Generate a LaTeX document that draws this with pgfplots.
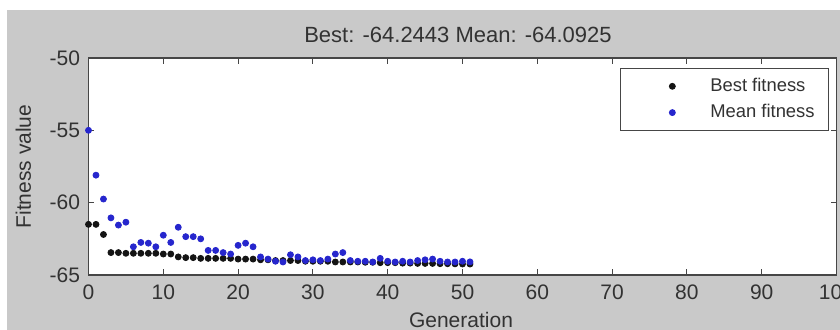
\documentclass[border=0pt]{standalone}
\usepackage{pgfplots}
\pgfplotsset{compat=1.18}
\usepackage{fontspec}
\setmainfont{Liberation Sans}
\definecolor{figgray}{RGB}{201,201,201}
\definecolor{mblue}{RGB}{38,38,205}
\definecolor{axgray}{RGB}{70,70,70}
\definecolor{txt}{RGB}{50,50,50}
\begin{document}
\begin{tikzpicture}
\clip (0,0) rectangle (420bp,165bp);
\fill[white] (0,0) rectangle (420bp,165bp);
\fill[figgray] (3.5bp,0) rectangle (420bp,160bp);
\begin{axis}[
  at={(44.25bp,27.5bp)}, anchor=south west,
  scale only axis, width=374bp, height=108.5bp,
  xmin=0, xmax=100, ymin=-65, ymax=-50,
  xtick={0,10,...,100}, ytick={-65,-60,-55,-50},
  tick align=inside, major tick length=3bp,
  axis line style={axgray, line width=0.6bp},
  tick style={axgray, line width=0.5bp},
  axis background/.style={fill=white},
  font=\fontsize{10.5bp}{12bp}\selectfont,
  /pgf/number format/assume math mode=true,
  ticklabel style={text=txt},
  xticklabel style={anchor=base, yshift=-12bp},
  yticklabel style={anchor=east, xshift=-0.75bp},
  title={Best: -64.2443 Mean: -64.0925},
  title style={at={(axis description cs:0.494,1.051)}, anchor=center, text=txt, font=\fontsize{11bp}{13bp}\selectfont},
  xlabel={Generation},
  xlabel style={at={(axis description cs:0.498,-0.244)}, anchor=base, text=txt},
  ylabel={Fitness value},
  ylabel style={at={(axis description cs:-0.087,0.5)}, anchor=center, text=txt},
  legend style={at={(0.990,0.955)}, anchor=north east, draw=axgray, fill=white,
    font=\fontsize{9.2bp}{11bp}\selectfont, text=txt, inner xsep=5bp, inner ysep=3bp, row sep=1bp},
  legend cell align=left,
  legend image code/.code={\draw[draw=none,fill=none] (0bp,0bp) -- (38bp,0bp); \draw[#1, only marks] plot coordinates {(21bp,0bp)};},
]
\addplot[only marks, mark=*, mark size=1.5bp, color=black!92] coordinates {
(0,-61.5) (1,-61.5) (2,-62.2) (3,-63.45) (4,-63.45) (5,-63.5) (6,-63.5) (7,-63.5) (8,-63.5) (9,-63.5) (10,-63.55) (11,-63.55)
(12,-63.75) (13,-63.8) (14,-63.8) (15,-63.85) (16,-63.85) (17,-63.85) (18,-63.85) (19,-63.85) (20,-63.9) (21,-63.9) (22,-63.9)
(23,-63.95) (24,-63.95) (25,-64.0) (26,-64.0) (27,-64.0) (28,-64.0) (29,-64.05) (30,-64.05) (31,-64.05) (32,-64.05) (33,-64.1)
(34,-64.1) (35,-64.1) (36,-64.1) (37,-64.12) (38,-64.12) (39,-64.15) (40,-64.15) (41,-64.15) (42,-64.18) (43,-64.18) (44,-64.2)
(45,-64.2) (46,-64.2) (47,-64.22) (48,-64.22) (49,-64.23) (50,-64.24) (51,-64.2443)
};
\addlegendentry{Best fitness}
\addplot[only marks, mark=*, mark size=1.5bp, color=mblue] coordinates {
(0,-55.0) (1,-58.1) (2,-59.75) (3,-61.05) (4,-61.55) (5,-61.35) (6,-63.05) (7,-62.75) (8,-62.8) (9,-63.05) (10,-62.25)
(11,-62.75) (12,-61.7) (13,-62.35) (14,-62.35) (15,-62.5) (16,-63.3) (17,-63.3) (18,-63.45) (19,-63.55) (20,-62.95) (21,-62.8)
(22,-63.05) (23,-63.75) (24,-63.9) (25,-64.05) (26,-64.1) (27,-63.6) (28,-63.75) (29,-64.0) (30,-63.95) (31,-64.0) (32,-63.9)
(33,-63.55) (34,-63.45) (35,-64.0) (36,-64.05) (37,-64.05) (38,-64.1) (39,-63.85) (40,-64.05) (41,-64.1) (42,-64.05) (43,-64.1)
(44,-64.0) (45,-63.95) (46,-63.9) (47,-64.05) (48,-64.1) (49,-64.1) (50,-64.05) (51,-64.0925)
};
\addlegendentry{Mean fitness}
\end{axis}
\end{tikzpicture}
\end{document}
